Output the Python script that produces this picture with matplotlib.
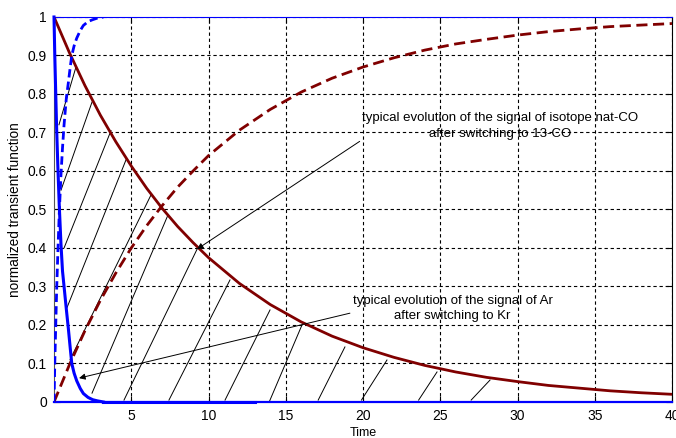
import matplotlib
matplotlib.use("Agg")
import matplotlib.pyplot as plt

# values
# slow exchange (nat-CO -> 13-CO)
red_t = [0, 1, 2, 3, 4, 5, 6, 7, 8, 9, 10, 12, 14, 16, 18, 20, 22, 24, 26, 28,
         30, 32, 34, 36, 38, 40]
red_fall = [1.000, 0.907, 0.822, 0.745, 0.676, 0.613, 0.555, 0.503, 0.456, 0.414,
            0.375, 0.308, 0.253, 0.208, 0.171, 0.141, 0.116, 0.095, 0.078, 0.064,
            0.053, 0.043, 0.036, 0.029, 0.024, 0.020]
red_rise = [0.000, 0.097, 0.185, 0.264, 0.335, 0.400, 0.458, 0.510, 0.558, 0.600,
            0.640, 0.706, 0.760, 0.805, 0.841, 0.870, 0.894, 0.914, 0.930, 0.942,
            0.953, 0.962, 0.969, 0.975, 0.979, 0.983]

# fast exchange (Ar -> Kr)
blue_t = [0, 0.05, 0.1, 0.17, 0.25, 0.34, 0.45, 0.55, 0.65, 0.8, 0.93, 1.05, 1.15,
          1.3, 1.47, 1.7, 1.9, 2.2, 2.5, 2.8, 3.2]
blue_fall = [1.000, 0.90, 0.82, 0.71, 0.61, 0.51, 0.41, 0.34, 0.30, 0.24, 0.19,
             0.14, 0.10, 0.075, 0.055, 0.035, 0.022, 0.012, 0.006, 0.003, 0.0]
blue_rise = [0.000, 0.10, 0.18, 0.29, 0.39, 0.49, 0.59, 0.66, 0.72, 0.79, 0.83,
             0.87, 0.90, 0.925, 0.945, 0.965, 0.978, 0.988, 0.993, 0.997, 1.0]
blue_tail_t = [3.2, 13]      # thick flat part of the Ar curve along the axis
blue_tail = [0.0, 0.0]

# hatch strokes between the two fall curves (start t, start y, end t, end y)
hatch_t0 = [0.32, 0.45, 0.65, 0.84, 1.04, 2.46, 4.53, 7.44, 11.07, 13.8, 17.1,
            19.9, 23.6, 27.0]
hatch_y0 = [0.72, 0.55, 0.40, 0.245, 0.11, 0.023, 0.005, 0.005, 0.005, -0.012,
            0.005, 0.005, 0.005, 0.005]
hatch_t1 = [1.42, 2.46, 3.69, 4.66, 6.28, 7.38, 9.26, 11.39, 13.98, 16.05, 18.83,
            21.55, 24.79, 28.22]
hatch_y1 = [0.870, 0.779, 0.705, 0.629, 0.538, 0.486, 0.397, 0.317, 0.239, 0.200,
            0.143, 0.109, 0.078, 0.057]

yticks = [0, 0.1, 0.2, 0.3, 0.4, 0.5, 0.6, 0.7, 0.8, 0.9, 1]
ytick_labels = ["0", "0.1", "0.2", "0.3", "0.4", "0.5", "0.6", "0.7", "0.8", "0.9", "1"]
xticks = [5, 10, 15, 20, 25, 30, 35, 40]

note_co = "typical evolution of the signal of isotope nat-CO\nafter switching to 13-CO"
note_ar = "typical evolution of the signal of Ar\nafter switching to Kr"

dark_red = "#800000"

plt.rcParams["font.family"] = "Liberation Sans"

fig = plt.figure(figsize=(6.76, 4.38), dpi=100)
ax = fig.add_axes([0.0799, 0.0822, 0.9142, 0.879])

ax.grid(True, color="black", linestyle=(0, (3, 2.5)), linewidth=0.8)
ax.set_axisbelow(True)

for i in range(len(hatch_t0)):
    ax.plot([hatch_t0[i], hatch_t1[i]], [hatch_y0[i], hatch_y1[i]],
            color="black", linewidth=0.7, zorder=2)

ax.plot(red_t, red_rise, color=dark_red, linestyle=(0, (4, 2)), linewidth=2, zorder=3)
ax.plot(red_t, red_fall, color=dark_red, linewidth=2, zorder=3)
ax.plot(blue_t, blue_rise, color="blue", linestyle=(0, (3, 1.5)), linewidth=2,
        zorder=4)
ax.plot(blue_t, blue_fall, color="blue", linewidth=2.2, zorder=4, clip_on=False)
ax.plot(blue_tail_t, blue_tail, color="blue", linewidth=2.2, zorder=4, clip_on=False)

ax.annotate(note_co, xy=(9.26, 0.397), xytext=(28.9, 0.717),
            ha="center", va="center", fontsize=9.5, linespacing=1.35,
            arrowprops=dict(arrowstyle="-|>", color="black", linewidth=0.7,
                            mutation_scale=9, shrinkA=0, shrinkB=0,
                            relpos=(0.0, 0.0)))
ax.annotate(note_ar, xy=(1.62, 0.062), xytext=(25.8, 0.243),
            ha="center", va="center", fontsize=9.5, linespacing=1.35,
            arrowprops=dict(arrowstyle="-|>", color="black", linewidth=0.7,
                            mutation_scale=9, shrinkA=0, shrinkB=0,
                            relpos=(0.0, 0.35)))

ax.set_xlim(0, 40)
ax.set_ylim(0, 1)
ax.set_xticks(xticks)
ax.set_yticks(yticks)
ax.set_yticklabels(ytick_labels)
ax.tick_params(direction="in", labelsize=10, length=4, top=True, right=True, pad=5)
ax.set_xlabel("Time", fontsize=9, labelpad=3)
ax.set_ylabel("normalized transient function", fontsize=9.8, labelpad=4)

ax.spines["left"].set_color("#555555")
ax.spines["top"].set_color("blue")
ax.spines["bottom"].set_color("blue")
ax.spines["bottom"].set_linewidth(1.6)

fig.savefig("out.png", dpi=100)
